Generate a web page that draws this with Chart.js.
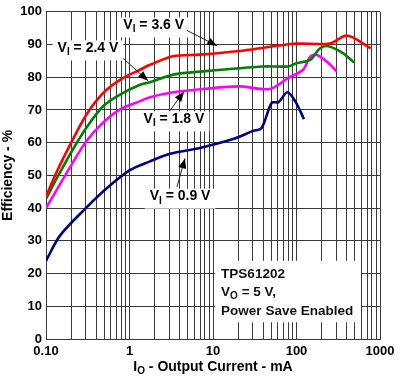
<!DOCTYPE html>
<html>
<head>
<meta charset="utf-8">
<script src="https://cdn.jsdelivr.net/npm/chart.js@4.4.1/dist/chart.umd.min.js"></script>
<style>
  body { margin: 0; background: #fff; }
  #wrap { width: 411px; height: 384px; }
</style>
</head>
<body>
<div id="wrap"><canvas id="canvas-eficiencia"></canvas></div>
<script>
// output current (mA) and efficiency (%) per input voltage
const currentV36 = [0.1, 0.134, 0.203, 0.307, 0.486, 0.77, 1.34, 1.76, 3.32, 6.98, 20.7, 48.2, 100, 252, 381, 479, 773];
const effV36 = [43.5, 51, 60.3, 68.7, 75.2, 79.2, 82.3, 83.8, 86.4, 86.9, 88.0, 89.3, 90.3, 90.3, 92.7, 92.1, 88.8];

const currentV24 = [0.1, 0.134, 0.203, 0.307, 0.486, 0.77, 1.34, 1.76, 3.35, 7.6, 40, 79.8, 100, 146, 190, 241, 363, 488];
const effV24 = [42.8, 49, 57.3, 64.7, 71.2, 74.7, 77.7, 78.5, 80.8, 81.8, 83.3, 83.3, 84.3, 85.3, 88.8, 89.5, 87.3, 84.5];

const currentV18 = [0.1, 0.134, 0.203, 0.307, 0.486, 0.77, 1.34, 1.76, 3.35, 7.6, 20.7, 48, 79.8, 120, 146, 175, 230, 303];
const effV18 = [40, 45.5, 53.3, 60.6, 66.2, 70.2, 72.7, 73.9, 75.4, 76.4, 77.2, 76.4, 79.8, 82.3, 86.3, 86.8, 84.8, 81.8];

const currentV09 = [0.1, 0.147, 0.3, 0.53, 1.01, 1.76, 3.05, 6.98, 17.4, 30.3, 38, 50.6, 61, 77.6, 96.3, 123];
const effV09 = [23.9, 31.6, 40, 46, 51.6, 54.3, 56.6, 58.4, 61.1, 63.6, 64.4, 72.2, 72.4, 75.4, 72.7, 67.2];

const xTickLabels = { 0.1: "0.10", 1: "1", 10: "10", 100: "100", 1000: "1000" };

// label text, box centre, arrow start and tip (data coords)
const notas = [
  { sub: "I", rest: " = 3.6 V", cx: 1.95, cy: 95.2, from: [4.88, 94.3], to: [11.2, 89.6] },
  { sub: "I", rest: " = 2.4 V", cx: 0.318, cy: 88.2, from: [0.836, 85.8], to: [1.67, 78.9] },
  { sub: "I", rest: " = 1.8 V", cx: 3.41, cy: 66.5, from: [3.05, 69.8], to: [4.49, 75.6] },
  { sub: "I", rest: " = 0.9 V", cx: 4.03, cy: 42.9, from: [3.7, 46.5], to: [4.62, 55.2] },
];

function puntos(xs, ys) {
  return xs.map((x, i) => ({ x: x, y: ys[i] }));
}

function logTicks() {
  const ticks = [];
  [0.1, 1, 10, 100].forEach((d) => {
    for (let k = 1; k <= 9; k++) ticks.push({ value: +(d * k).toPrecision(3) });
  });
  ticks.push({ value: 1000 });
  return ticks;
}

const FONT = "'Liberation Sans', Arial, sans-serif";

function textoSub(ctx, x, y, main, sub, rest, size) {
  ctx.font = "bold " + size + "px " + FONT;
  ctx.fillText(main, x, y);
  x += ctx.measureText(main).width;
  ctx.font = "bold " + Math.round(size * 0.72) + "px " + FONT;
  ctx.fillText(sub, x, y + size * 0.3);
  x += ctx.measureText(sub).width;
  ctx.font = "bold " + size + "px " + FONT;
  ctx.fillText(rest, x, y);
}

function anchoSub(ctx, main, sub, rest, size) {
  ctx.font = "bold " + size + "px " + FONT;
  let w = ctx.measureText(main).width + ctx.measureText(rest).width;
  ctx.font = "bold " + Math.round(size * 0.72) + "px " + FONT;
  return w + ctx.measureText(sub).width;
}

function flecha(ctx, x1, y1, x2, y2) {
  const ang = Math.atan2(y2 - y1, x2 - x1);
  ctx.strokeStyle = "#222";
  ctx.lineWidth = 1;
  ctx.beginPath();
  ctx.moveTo(x1, y1);
  ctx.lineTo(x2, y2);
  ctx.stroke();
  ctx.fillStyle = "#000";
  ctx.beginPath();
  ctx.moveTo(x2, y2);
  ctx.lineTo(x2 - 10 * Math.cos(ang) + 4 * Math.sin(ang), y2 - 10 * Math.sin(ang) - 4 * Math.cos(ang));
  ctx.lineTo(x2 - 10 * Math.cos(ang) - 4 * Math.sin(ang), y2 - 10 * Math.sin(ang) + 4 * Math.cos(ang));
  ctx.closePath();
  ctx.fill();
}

const anotaciones = {
  id: "anotaciones",
  afterDatasetsDraw(chart) {
    const ctx = chart.ctx;
    const sx = chart.scales.x;
    const sy = chart.scales.y;
    ctx.save();
    ctx.textBaseline = "middle";
    ctx.textAlign = "left";

    notas.forEach((n) => {
      const cx = sx.getPixelForValue(n.cx);
      const cy = sy.getPixelForValue(n.cy);
      const w = anchoSub(ctx, "V", n.sub, n.rest, 14);
      ctx.fillStyle = "#fff";
      ctx.fillRect(cx - w / 2 - 5, cy - 10, w + 10, 20);
      flecha(ctx, sx.getPixelForValue(n.from[0]), sy.getPixelForValue(n.from[1]),
        sx.getPixelForValue(n.to[0]), sy.getPixelForValue(n.to[1]));
      ctx.fillStyle = "#000";
      textoSub(ctx, cx - w / 2, cy - 2, "V", n.sub, n.rest, 14);
    });

    // condiciones de prueba
    const bx1 = sx.getPixelForValue(10.6);
    const bx2 = sx.getPixelForValue(592);
    const by1 = sy.getPixelForValue(23.9);
    const by2 = sy.getPixelForValue(5.1);
    ctx.fillStyle = "#fff";
    ctx.fillRect(bx1, by1, bx2 - bx1, by2 - by1);
    ctx.fillStyle = "#111";
    ctx.font = "bold 13.5px " + FONT;
    ctx.fillText("TPS61202", bx1 + 6, by1 + 13);
    textoSub(ctx, bx1 + 6, by1 + 31, "V", "O", " = 5 V,", 13.5);
    ctx.font = "bold 13.5px " + FONT;
    ctx.fillText("Power Save Enabled", bx1 + 6, by1 + 50);

    // titulo eje x
    const area = chart.chartArea;
    const tw = anchoSub(ctx, "I", "O", " - Output Current - mA", 14);
    ctx.fillStyle = "#000";
    textoSub(ctx, (area.left + area.right) / 2 - tw / 2, 367, "I", "O", " - Output Current - mA", 14);
    ctx.restore();
  },
};

function createGraficoEficiencia() {
  const data = {
    datasets: [
      { label: "VI = 3.6 V", data: puntos(currentV36, effV36), borderColor: "#ff0000" },
      { label: "VI = 2.4 V", data: puntos(currentV24, effV24), borderColor: "#008000" },
      { label: "VI = 1.8 V", data: puntos(currentV18, effV18), borderColor: "#ff00ff" },
      { label: "VI = 0.9 V", data: puntos(currentV09, effV09), borderColor: "#000080" },
    ].map((ds) => Object.assign(ds, {
      borderWidth: 2.6,
      pointRadius: 0,
      fill: false,
      tension: 0.3,
    })),
  };

  const gridStyle = { color: "#3a3a3a", lineWidth: 1, drawTicks: false };
  const tickFont = { family: FONT, size: 13, weight: "bold" };

  const config = {
    type: "line",
    data: data,
    options: {
      responsive: true,
      maintainAspectRatio: false,
      animation: false,
      layout: { padding: { top: 5, right: 31, left: 0, bottom: 0 } },
      plugins: { legend: { display: false }, tooltip: { enabled: false } },
      scales: {
        x: {
          type: "logarithmic",
          min: 0.1,
          max: 1000,
          grid: gridStyle,
          border: { color: "#3a3a3a" },
          afterBuildTicks: (axis) => { axis.ticks = logTicks(); },
          afterFit: (axis) => { axis.height = 45; },
          ticks: {
            autoSkip: false,
            maxRotation: 0,
            padding: 5,
            color: "#000",
            font: tickFont,
            callback: (value) => xTickLabels[value] || "",
          },
        },
        y: {
          min: 0,
          max: 100,
          grid: gridStyle,
          border: { color: "#3a3a3a" },
          afterFit: (axis) => { axis.width = 46; },
          ticks: { stepSize: 10, padding: 4, color: "#000", font: tickFont },
          title: {
            display: true,
            text: "Efficiency - %",
            color: "#000",
            font: { family: FONT, size: 14, weight: "bold" },
            padding: 0,
          },
        },
      },
    },
    plugins: [anotaciones],
  };

  new Chart(document.getElementById("canvas-eficiencia"), config);
}

document.addEventListener("DOMContentLoaded", function () {
  createGraficoEficiencia();
});
</script>
</body>
</html>
